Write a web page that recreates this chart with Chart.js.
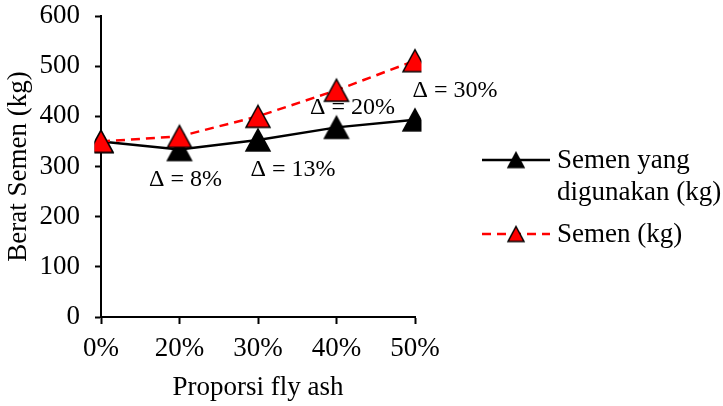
<!DOCTYPE html>
<html>
<head>
<meta charset="utf-8">
<script src="https://cdn.jsdelivr.net/npm/chart.js@4/dist/chart.umd.min.js"></script>
<style>
  html, body { margin: 0; padding: 0; background: #ffffff; }
  #wrap { width: 723px; height: 406px; }
</style>
</head>
<body>
<div id="wrap"><canvas id="c" width="723" height="406"></canvas></div>
<script>
// Cement weight per fly-ash proportion
const categories = ['0%', '20%', '30%', '40%', '50%'];
const semenDigunakan = [350, 334, 353, 378, 393];   // cement actually used (kg)
const semen = [350, 360, 400, 452, 511];            // cement (kg)
const yTicks = [0, 100, 200, 300, 400, 500, 600];
const seriesLabels = [['Semen yang', 'digunakan (kg)'], ['Semen (kg)']];
const xTitle = 'Proporsi fly ash';
const yTitle = 'Berat Semen (kg)';

const FONT = '"Liberation Serif", "Times New Roman", serif';
const FS = 27;

// Triangle marker drawn on an offscreen canvas so its box is centred on the point
function triangleMarker(w, h, fill) {
  const pad = 2;
  const cv = document.createElement('canvas');
  cv.width = w + pad * 2;
  cv.height = h + pad * 2;
  const g = cv.getContext('2d');
  g.beginPath();
  g.moveTo(pad + w / 2, pad);
  g.lineTo(pad + w, pad + h);
  g.lineTo(pad, pad + h);
  g.closePath();
  g.fillStyle = fill;
  g.fill();
  g.lineWidth = 1.5;
  g.strokeStyle = '#000000';
  g.lineJoin = 'miter';
  g.stroke();
  return cv;
}

const blackTri = triangleMarker(24, 22, '#000000');
const redTri = triangleMarker(24, 22, '#ff0000');
const blackTriSmall = triangleMarker(16, 15, '#000000');
const redTriSmall = triangleMarker(16, 15, '#ff0000');

// Difference labels between the two series, placed near each pair of markers
const deltaOffsets = [null, [6, 30], [35, 30], [16, -20], [40, -29]];
const deltaLabels = {
  id: 'deltaLabels',
  afterDatasetsDraw(chart) {
    const { ctx, scales } = chart;
    ctx.save();
    ctx.font = '24px ' + FONT;
    ctx.fillStyle = '#000000';
    ctx.textAlign = 'center';
    ctx.textBaseline = 'middle';
    categories.forEach((cat, i) => {
      const off = deltaOffsets[i];
      if (!off) return;
      const pct = Math.round((semen[i] / semenDigunakan[i] - 1) * 100);
      const x = scales.x.getPixelForValue(i);
      const y = scales.y.getPixelForValue(semenDigunakan[i]);
      ctx.fillText('\u0394 = ' + pct + '%', x + off[0], y + off[1]);
    });
    ctx.restore();
  }
};

// Legend on the right: line sample with marker, label beside it
const sideLegend = {
  id: 'sideLegend',
  afterDraw(chart) {
    const { ctx } = chart;
    const items = [
      { y: 160, color: '#000000', dash: [], marker: blackTriSmall, lines: seriesLabels[0] },
      { y: 234, color: '#ff0000', dash: [9, 6], marker: redTriSmall, lines: seriesLabels[1] }
    ];
    ctx.save();
    items.forEach(it => {
      ctx.beginPath();
      ctx.setLineDash(it.dash);
      ctx.lineWidth = 2.5;
      ctx.strokeStyle = it.color;
      ctx.moveTo(482, it.y);
      ctx.lineTo(550, it.y);
      ctx.stroke();
      ctx.setLineDash([]);
      ctx.drawImage(it.marker, 516 - it.marker.width / 2, it.y - it.marker.height / 2);
      ctx.font = FS + 'px ' + FONT;
      ctx.fillStyle = '#000000';
      ctx.textAlign = 'left';
      ctx.textBaseline = 'middle';
      it.lines.forEach((t, k) => ctx.fillText(t, 557, it.y + 1 + k * 32));
    });
    ctx.restore();
  }
};

new Chart(document.getElementById('c'), {
  type: 'line',
  data: {
    labels: categories,
    datasets: [
      {
        label: seriesLabels[0].join(' '),
        data: semenDigunakan,
        borderColor: '#000000',
        borderWidth: 2.5,
        tension: 0,
        pointStyle: blackTri,
        order: 1
      },
      {
        label: seriesLabels[1].join(' '),
        data: semen,
        borderColor: '#ff0000',
        borderWidth: 2.5,
        borderDash: [9, 6],
        tension: 0,
        pointStyle: redTri,
        order: 0
      }
    ]
  },
  options: {
    responsive: false,
    animation: false,
    layout: { padding: { top: 16, right: 308, bottom: 0, left: 0 } },
    plugins: {
      legend: { display: false },
      tooltip: { enabled: false }
    },
    scales: {
      x: {
        type: 'category',
        offset: false,
        afterFit(s) { s.height = 89; },
        grid: {
          display: true,
          drawOnChartArea: false,
          drawTicks: true,
          tickLength: 7,
          tickWidth: 2,
          tickColor: '#000000',
          color: '#000000'
        },
        border: { display: true, color: '#000000', width: 2 },
        ticks: {
          color: '#000000',
          padding: 9,
          font: { family: FONT, size: FS },
          maxRotation: 0
        },
        title: {
          display: true,
          text: xTitle,
          color: '#000000',
          font: { family: FONT, size: FS },
          padding: { top: 0, bottom: 2 }
        }
      },
      y: {
        min: yTicks[0],
        max: yTicks[yTicks.length - 1],
        afterFit(s) { s.width = 101; s.paddingTop = 0; s.paddingBottom = 0; },
        afterBuildTicks(s) { s.ticks = yTicks.map(v => ({ value: v })); },
        grid: {
          display: true,
          drawOnChartArea: false,
          drawTicks: true,
          tickLength: 6,
          tickWidth: 2,
          tickColor: '#000000',
          color: '#000000'
        },
        border: { display: true, color: '#000000', width: 2 },
        ticks: {
          color: '#000000',
          padding: 15,
          font: { family: FONT, size: FS }
        },
        title: {
          display: true,
          text: yTitle,
          color: '#000000',
          font: { family: FONT, size: FS },
          padding: { top: 3, bottom: 0 }
        }
      }
    }
  },
  plugins: [deltaLabels, sideLegend]
});
</script>
</body>
</html>
